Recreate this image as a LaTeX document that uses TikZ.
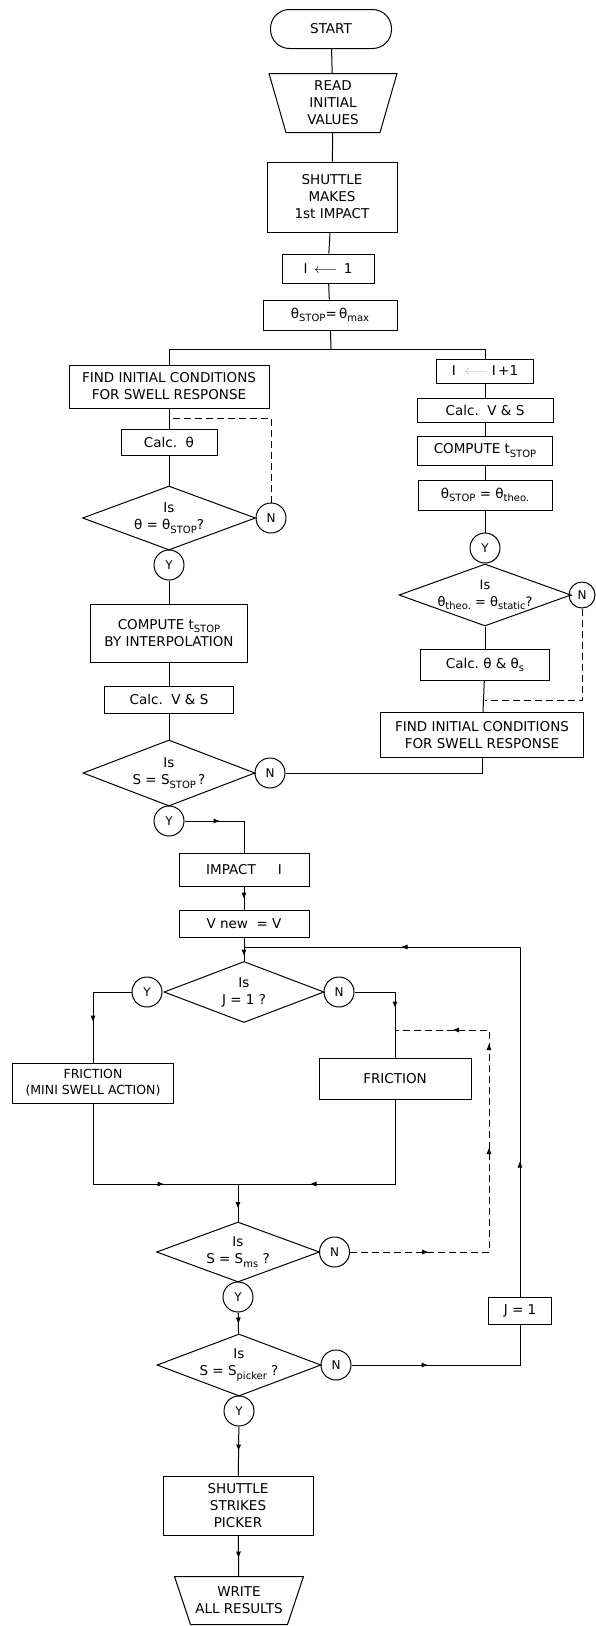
\documentclass[tikz,border=0pt]{standalone}
\usepackage{fontspec}
\setmainfont{DejaVu Sans}
\usetikzlibrary{arrows.meta,decorations.markings,shapes.geometric,calc}
\newcommand{\dn}[1]{\raisebox{-0.45ex}{\fontsize{10}{10}\selectfont #1}}
\newcommand{\flsize}{\fontsize{13.5}{17}\selectfont}
\begin{document}
\begin{tikzpicture}[x=1pt,y=-1pt,line width=1pt,
  box/.style={draw, rectangle, inner sep=0pt, align=center, font=\flsize},
  trap/.style={inner sep=0pt, align=center, font=\flsize},
  dia/.style={draw, diamond, inner sep=0pt, aspect=2.7},
  dtext/.style={align=center, font=\flsize, inner sep=0pt},
  yn/.style={draw, circle, minimum size=30pt, inner sep=0pt, font=\fontsize{12}{12}\selectfont},
  dsh/.style={dash pattern=on 7pt off 4pt},
  midtip/.style={postaction={decorate,decoration={markings,mark=at position #1 with {\arrow{Triangle[length=6pt,width=4.5pt]}}}}}
]
\fill[white] (0,0) rectangle (595,1626);
\useasboundingbox (0,0) rectangle (595,1626);

% top column
\node[box, rounded corners=19pt, minimum width=121pt, minimum height=39pt] (start) at (331,29) {START};
\node[trap, minimum width=127pt, minimum height=58pt] (read) at (333,103) {READ\\INITIAL\\VALUES};
\draw (read.north west) -- (read.north east) -- ([xshift=-17pt]read.south east) -- ([xshift=17pt]read.south west) -- cycle;
\node[box, minimum width=130pt, minimum height=70pt] (shut1) at (332,197) {SHUTTLE\\MAKES\\1st IMPACT};
\node[box, minimum width=92pt, minimum height=29pt] (ione) at (328,268.5) {I\, $\longleftarrow$\, 1};
\node[box, minimum width=134pt, minimum height=30pt] (thmax) at (330,315) {θ\dn{STOP}=\,θ\dn{max}};

% left column
\node[box, minimum width=200pt, minimum height=43pt] (findL) at (169,386.5) {FIND INITIAL CONDITIONS\\FOR SWELL RESPONSE};
\node[box, minimum width=96pt, minimum height=26pt] (calcth) at (169,442) {Calc.~~θ};
\node[dia, minimum width=173pt, minimum height=64pt] (dia1) at (169,518) {};
\node[dtext] at (169,518) {Is\\θ = θ\dn{STOP}?};
\node[yn] (n1) at (271,518) {N};
\node[yn] (y1) at (169,565) {Y};
\node[box, minimum width=157pt, minimum height=58pt] (compL) at (169,633) {COMPUTE t\dn{STOP}\\BY INTERPOLATION};
\node[box, minimum width=129pt, minimum height=27pt] (calcVSL) at (169,699.5) {Calc.~~V~\&~S};
\node[dia, minimum width=172pt, minimum height=66pt] (dia2) at (169,773) {};
\node[dtext] at (169,773) {Is\\S = S\dn{STOP}\,?};
\node[yn] (n2) at (270,773) {N};
\node[yn] (y2) at (169,821) {Y};

% right column
\node[box, minimum width=97pt, minimum height=24pt] (iinc) at (485,371) {I~~{\color{black!25}$\longleftarrow$}~I\,+1};
\node[box, minimum width=136pt, minimum height=24pt] (calcVSR) at (485,410) {Calc.~~V~\&~S};
\node[box, minimum width=135pt, minimum height=29pt] (compR) at (485,450.5) {COMPUTE t\dn{STOP}};
\node[box, minimum width=134pt, minimum height=30pt] (ththeo) at (485,495) {θ\dn{STOP} = θ\dn{theo.}};
\node[yn] (y3) at (485,548) {Y};
\node[dia, minimum width=172pt, minimum height=62pt] (dia3) at (485,595) {};
\node[dtext, font=\fontsize{13}{17}\selectfont] at (485,595) {Is\\θ\dn{theo.} = θ\dn{static}?};
\node[yn, minimum size=26pt] (n3) at (582,595) {N};
\node[box, minimum width=129pt, minimum height=31pt] (calcths) at (485,665) {Calc.~θ \& θ\dn{s}};
\node[box, minimum width=203pt, minimum height=45pt] (findR) at (482,735) {FIND INITIAL CONDITIONS\\FOR SWELL RESPONSE};

% lower part
\node[box, minimum width=130pt, minimum height=33pt] (impact) at (244,869.5) {IMPACT\quad~~I};
\node[box, minimum width=130pt, minimum height=27pt] (vnew) at (244,923.5) {V new~ = V};
\node[dia, minimum width=160pt, minimum height=61pt] (diaJ) at (244,992) {};
\node[dtext] at (244,992) {Is\\J = 1 ?};
\node[yn] (yJ) at (147,992) {Y};
\node[yn] (nJ) at (339,992) {N};
\node[box, minimum width=161pt, minimum height=40pt, font=\fontsize{12.5}{16}\selectfont] (fricmini) at (93,1083) {FRICTION\\(MINI SWELL ACTION)};
\node[box, minimum width=152pt, minimum height=41pt] (fric) at (395,1078.5) {FRICTION};
\node[dia, minimum width=163pt, minimum height=60pt] (diaMs) at (238,1252) {};
\node[dtext] at (238,1252) {Is\\S = S\dn{ms} ?};
\node[yn] (nMs) at (334.5,1252) {N};
\node[yn] (yMs) at (238,1297) {Y};
\node[dia, minimum width=164pt, minimum height=62pt] (diaPk) at (239,1365) {};
\node[dtext] at (239,1365) {Is\\S = S\dn{picker} ?};
\node[yn] (nPk) at (336,1365) {N};
\node[yn] (yPk) at (239,1411) {Y};
\node[box, minimum width=63pt, minimum height=27pt] (jone) at (520,1310.5) {J = 1};
\node[box, minimum width=150pt, minimum height=59pt] (shut2) at (238,1505.5) {SHUTTLE\\STRIKES\\PICKER};
\node[trap, minimum width=128pt, minimum height=47pt] (write) at (239,1600.5) {WRITE\\ALL RESULTS};
\draw (write.north west) -- (write.north east) -- ([xshift=-16pt]write.south east) -- ([xshift=16pt]write.south west) -- cycle;

% coordinates
\coordinate (br) at (331,349);
\coordinate (dl) at (169,418);
\coordinate (dr) at (485,700);
\coordinate (jn) at (238,1184);
\coordinate (d1) at (489,1252);
\coordinate (d2) at (489,1030);
\coordinate (d3) at (395,1030);
\coordinate (l1) at (520,1365);
\coordinate (l2) at (520,947);
\coordinate (l3) at (244,947);

% top connectors
\draw (start) -- (read);
\draw (read) -- (shut1);
\draw (shut1) -- (ione);
\draw (ione) -- (thmax);
\draw (thmax) -- (br);
\draw (br) -| (findL);
\draw (br) -| (iinc);

% left connectors
\draw (findL) -- (calcth);
\draw (calcth) -- (dia1);
\draw (dia1.east) -- (n1.west);
\draw[dsh] (n1.north) |- (dl);
\draw (y1) -- (compL);
\draw (compL) -- (calcVSL);
\draw (calcVSL) -- (dia2);
\draw (dia2.east) -- (n2.west);

% right connectors
\draw (iinc) -- (calcVSR);
\draw (calcVSR) -- (compR);
\draw (compR) -- (ththeo);
\draw (ththeo) -- (y3);
\draw (dia3) -- (calcths);
\draw (calcths) -- (findR);
\draw (dia3.east) -- (n3.west);
\draw[dsh] (n3.south) |- (dr);
\draw (findR.south) |- (n2.east);

% lower connectors
\draw[midtip=35pt] (y2.east) -| (impact.north);
\draw[midtip=12pt] (impact) -- (vnew);
\draw[midtip=18pt] (vnew) -- (diaJ);
\draw (diaJ.east) -- (nJ.west);
\draw[midtip=68pt] (yJ.west) -| (fricmini.north);
\draw[midtip=56pt] (nJ.east) -| (fric.north);
\draw[midtip=151pt] (fricmini.south) |- (jn);
\draw[midtip=169pt] (fric.south) |- (jn);
\draw[midtip=24pt] (jn) -- (diaMs.north);
\draw (diaMs.east) -- (nMs.west);
\draw[midtip=11pt] (yMs) -- (diaPk);
\draw (diaPk.east) -- (nPk.west);
\draw[midtip=24pt] (yPk) -- (shut2);
\draw[midtip=22pt] (shut2) -- (write);
\draw[dsh, midtip=78pt, midtip=243pt, midtip=347pt, midtip=397pt] (nMs.east) -- (d1) -- (d2) -- (d3);
\draw[midtip=76pt] (nPk.east) -- (l1) -- (jone.south);
\draw[midtip=135pt, midtip=468pt] (jone.north) -- (l2) -- (l3);
\end{tikzpicture}
\end{document}
